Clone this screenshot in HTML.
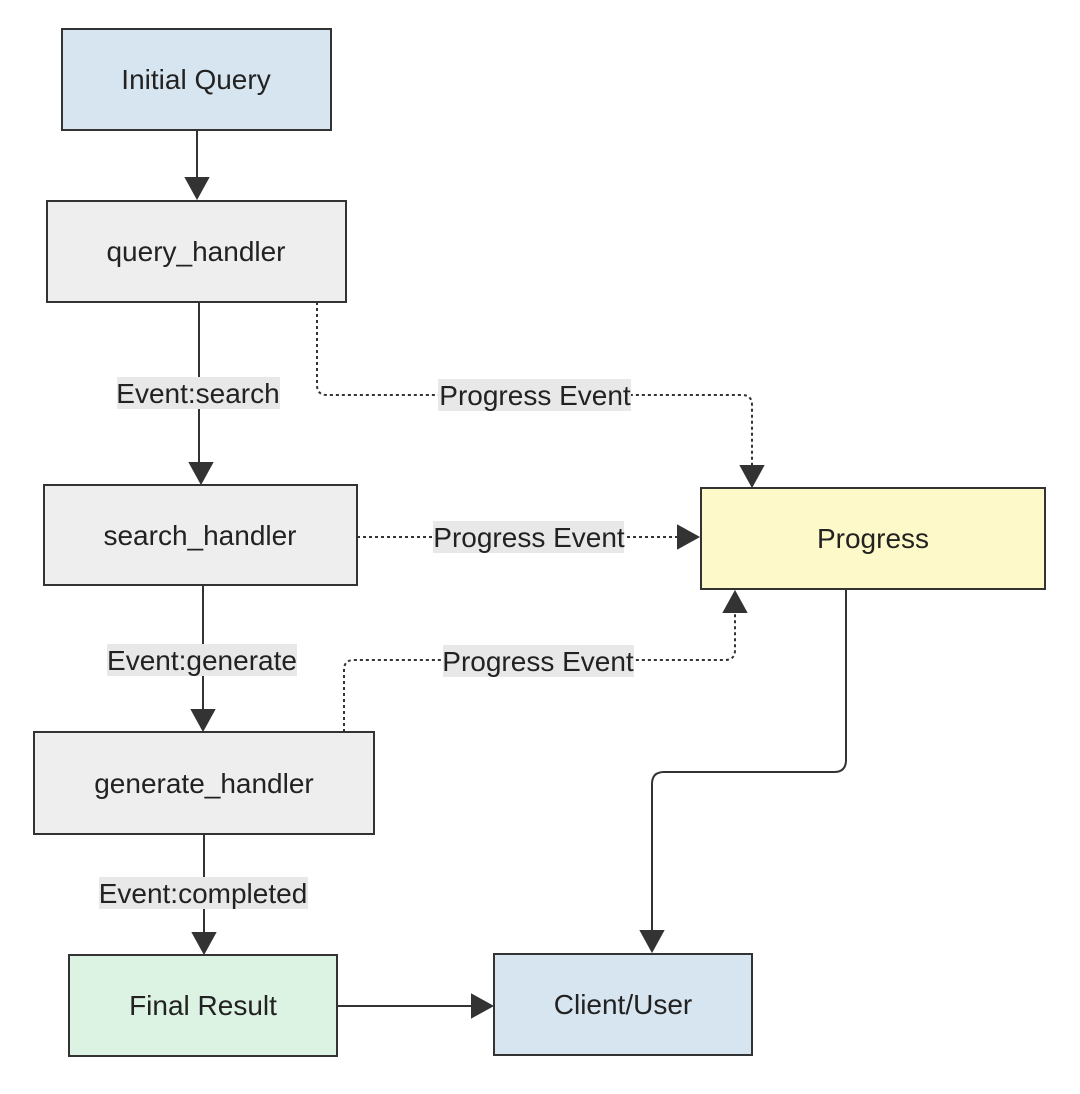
<!DOCTYPE html>
<html><head><meta charset="utf-8"><style>
html,body{margin:0;padding:0;background:#fff;}
svg{display:block;}
text{font-family:"Liberation Sans",Arial,sans-serif;font-size:28px;fill:#222;}
</style></head><body>
<svg width="1080" height="1094" viewBox="0 0 1080 1094" xmlns="http://www.w3.org/2000/svg">
<g stroke="#333" stroke-width="2" fill="none">
<path d="M197,130 V180"/>
<path d="M199,302 V465"/>
<path d="M203,585 V712"/>
<path d="M204,834 V935"/>
<path d="M846,589 V760 Q846,772 834,772 H664 Q652,772 652,784 V933"/>
<path d="M337,1006 H474"/>
<path d="M317,302 V385 Q317,395 327,395 H742 Q752,395 752,405 V468" stroke-dasharray="3,3"/>
<path d="M357,537 H680" stroke-dasharray="3,3"/>
<path d="M344,732 V670 Q344,660 354,660 H725 Q735,660 735,650 V610" stroke-dasharray="3,3"/>
</g>
<g stroke="#333" stroke-width="2">
<path d="M186,178 L208,178 L197,198 z" fill="#333"/>
<path d="M190,463 L212,463 L201,483 z" fill="#333"/>
<path d="M192,710 L214,710 L203,730 z" fill="#333"/>
<path d="M193,933 L215,933 L204,953 z" fill="#333"/>
<path d="M641,931 L663,931 L652,951 z" fill="#333"/>
<path d="M472,995 L472,1017 L492,1006 z" fill="#333"/>
<path d="M741,466 L763,466 L752,486 z" fill="#333"/>
<path d="M678,526 L678,548 L698,537 z" fill="#333"/>
<path d="M724,612 L746,612 L735,592 z" fill="#333"/>
</g>
<g fill="#e8e8e8">
<rect x="117" y="377" width="163" height="32"/>
<rect x="438" y="379" width="193" height="32"/>
<rect x="433" y="521" width="191" height="32"/>
<rect x="107" y="644" width="190" height="32"/>
<rect x="443" y="645" width="191" height="32"/>
<rect x="99" y="877" width="209" height="32"/>
</g>
<g text-anchor="middle">
<text x="198" y="403">Event:search</text>
<text x="535" y="405">Progress Event</text>
<text x="529" y="547">Progress Event</text>
<text x="202" y="670">Event:generate</text>
<text x="538" y="671">Progress Event</text>
<text x="203" y="903">Event:completed</text>
</g>
<g stroke="#333" stroke-width="2">
<rect x="62" y="29" width="269" height="101" fill="#d7e5f0"/>
<rect x="47" y="201" width="299" height="101" fill="#eeeeee"/>
<rect x="44" y="485" width="313" height="100" fill="#eeeeee"/>
<rect x="34" y="732" width="340" height="102" fill="#eeeeee"/>
<rect x="69" y="955" width="268" height="101" fill="#dcf2e3"/>
<rect x="494" y="954" width="258" height="101" fill="#d7e5f0"/>
<rect x="701" y="488" width="344" height="101" fill="#fdf9c9"/>
</g>
<g text-anchor="middle">
<text x="196" y="89">Initial Query</text>
<text x="196" y="261">query_handler</text>
<text x="200" y="545">search_handler</text>
<text x="204" y="793">generate_handler</text>
<text x="203" y="1015">Final Result</text>
<text x="623" y="1014">Client/User</text>
<text x="873" y="548">Progress</text>
</g>
</svg>
</body></html>
